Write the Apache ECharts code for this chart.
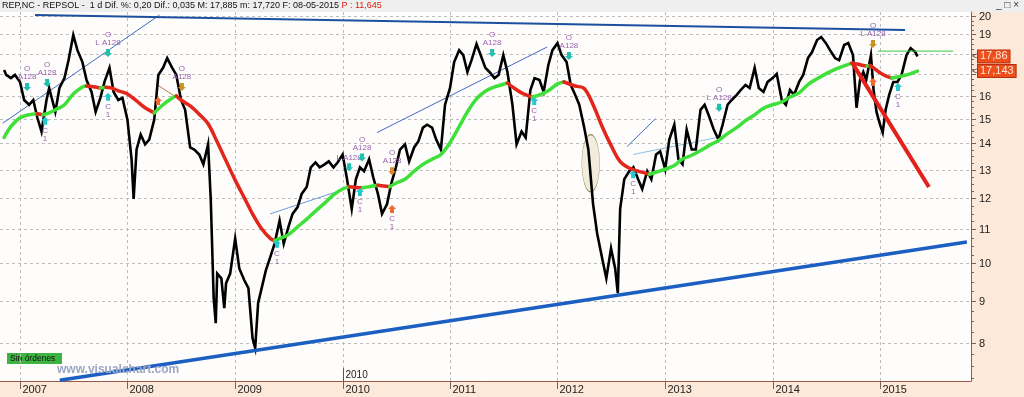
<!DOCTYPE html>
<html><head><meta charset="utf-8">
<script src="https://cdn.jsdelivr.net/npm/echarts@6/dist/echarts.min.js"></script>
<style>html,body{margin:0;padding:0;background:#fce9d9;}#c{width:1024px;height:397px;}</style>
</head><body><div id="c"></div>
<script>
// ---------- data ----------
const priceDates = ['2006-11-08','2006-11-15','2006-12-01','2006-12-15','2007-01-01','2007-01-15','2007-02-01','2007-02-15','2007-03-01','2007-03-15','2007-04-01','2007-04-10','2007-05-01','2007-05-15','2007-06-01','2007-06-15','2007-07-01','2007-07-15','2007-08-01','2007-08-15','2007-09-01','2007-09-15','2007-10-01','2007-10-15','2007-11-01','2007-11-15','2007-12-01','2007-12-15',
'2008-01-01','2008-01-15','2008-01-22','2008-02-01','2008-02-15','2008-03-01','2008-03-15','2008-04-01','2008-04-15','2008-05-01','2008-05-15','2008-06-01','2008-06-15','2008-07-01','2008-07-15','2008-08-01','2008-08-15','2008-09-01','2008-09-15','2008-10-01','2008-10-10','2008-10-20','2008-10-27','2008-11-01','2008-11-15','2008-11-25','2008-12-01','2008-12-15',
'2009-01-01','2009-01-15','2009-02-01','2009-02-15','2009-03-01','2009-03-10','2009-03-20','2009-04-01','2009-04-15','2009-05-01','2009-05-15','2009-06-01','2009-06-15','2009-07-01','2009-07-15','2009-08-01','2009-08-15','2009-09-01','2009-09-15','2009-10-01','2009-10-15','2009-11-01','2009-11-15','2009-12-01','2009-12-15',
'2010-01-01','2010-01-15','2010-02-01','2010-02-15','2010-03-01','2010-03-15','2010-04-01','2010-04-15','2010-05-01','2010-05-15','2010-06-01','2010-06-15','2010-07-01','2010-07-15','2010-08-01','2010-08-15','2010-09-01','2010-09-15','2010-10-01','2010-10-15','2010-11-01','2010-11-15','2010-12-01','2010-12-15',
'2011-01-01','2011-01-15','2011-02-01','2011-02-15','2011-03-01','2011-03-15','2011-04-01','2011-04-15','2011-05-01','2011-05-15','2011-06-01','2011-06-15','2011-07-01','2011-07-15','2011-08-01','2011-08-15','2011-09-01','2011-09-15','2011-10-01','2011-10-15','2011-11-01','2011-11-15','2011-12-01','2011-12-15',
'2012-01-01','2012-01-15','2012-02-01','2012-02-15','2012-03-01','2012-03-15','2012-04-01','2012-04-15','2012-05-01','2012-05-15','2012-06-01','2012-06-15','2012-07-01','2012-07-15','2012-07-24','2012-08-01','2012-08-15','2012-09-01','2012-09-15','2012-10-01','2012-10-15','2012-11-01','2012-11-15','2012-12-01','2012-12-15',
'2013-01-01','2013-01-15','2013-02-01','2013-02-15','2013-03-01','2013-03-15','2013-04-01','2013-04-15','2013-05-01','2013-05-15','2013-06-01','2013-06-15','2013-07-01','2013-07-15','2013-08-01','2013-08-15','2013-09-01','2013-09-15','2013-10-01','2013-10-15','2013-11-01','2013-11-15','2013-12-01','2013-12-15',
'2014-01-01','2014-01-15','2014-02-01','2014-02-15','2014-03-01','2014-03-15','2014-04-01','2014-04-15','2014-05-01','2014-05-15','2014-06-01','2014-06-15','2014-07-01','2014-07-15','2014-08-01','2014-08-15','2014-09-01','2014-09-15','2014-10-01','2014-10-13','2014-10-25','2014-11-05','2014-11-15','2014-12-01','2014-12-10','2014-12-20',
'2015-01-01','2015-01-10','2015-01-20','2015-02-01','2015-02-15','2015-03-01','2015-03-15','2015-04-01','2015-04-15','2015-05-01','2015-05-08'];
const priceValues = [17.20,16.96,16.81,16.96,16.63,15.81,15.60,15.81,15.04,14.47,15.81,16.35,15.29,16.35,16.81,17.68,18.97,18.18,17.58,16.72,16.17,15.29,15.90,16.63,17.30,16.17,15.81,15.90,
14.96,13.39,11.98,13.76,14.35,13.96,14.15,14.96,16.96,17.30,17.78,17.30,16.96,15.81,15.38,13.84,13.76,13.57,13.20,13.96,11.98,9.07,8.46,9.72,9.59,8.82,9.46,9.72,
10.72,9.86,9.54,9.33,8.11,7.89,8.95,9.33,9.80,10.20,10.57,11.27,10.57,11.08,11.49,11.71,12.15,12.39,13.09,13.27,13.09,13.20,13.31,13.09,13.27,
13.57,12.73,11.65,12.66,13.09,12.95,13.39,12.73,12.15,11.49,11.81,12.49,13.09,13.76,13.96,13.31,13.84,14.07,14.63,14.75,14.63,14.15,13.76,15.60,
16.35,17.58,18.18,17.93,17.10,17.68,18.49,17.93,17.30,17.10,16.81,16.96,17.93,17.10,15.60,13.96,14.47,14.23,16.26,16.81,16.72,16.17,17.44,18.18,
18.54,17.93,17.58,16.49,16.04,15.60,14.63,13.76,11.81,10.87,10.14,9.59,10.43,9.86,9.20,11.65,12.66,12.95,13.09,12.66,12.32,12.95,12.66,13.57,13.69,
13.02,14.15,14.75,13.39,13.20,14.55,13.76,13.76,15.38,15.60,15.04,14.55,14.15,14.75,15.60,15.81,16.04,16.26,16.49,16.35,17.30,16.35,16.17,16.63,
16.81,17.01,15.81,15.60,16.26,16.04,16.63,16.96,17.78,18.08,18.70,18.86,18.54,18.18,17.78,17.68,18.44,18.54,17.93,15.47,16.72,17.10,16.72,17.93,16.26,15.29,
14.75,14.43,15.38,16.04,16.63,16.63,16.96,17.93,18.28,18.08,17.86];

const maDates = ['2006-11-08','2006-12-01','2007-01-01','2007-02-01','2007-03-01','2007-03-20','2007-04-10','2007-05-01','2007-06-01','2007-07-01','2007-08-01','2007-08-15','2007-09-01','2007-10-01','2007-10-20','2007-11-05','2007-12-01',
'2008-01-01','2008-02-01','2008-03-01','2008-04-01','2008-05-01','2008-06-01','2008-06-15','2008-07-01','2008-08-01','2008-09-01','2008-10-01','2008-11-01','2008-12-01',
'2009-01-01','2009-02-01','2009-03-01','2009-04-01','2009-05-01','2009-05-15','2009-06-01','2009-07-01','2009-08-01','2009-09-01','2009-10-01','2009-11-01','2009-12-01',
'2010-01-01','2010-01-25','2010-02-15','2010-03-10','2010-04-01','2010-05-01','2010-05-20','2010-06-10','2010-07-01','2010-08-01','2010-09-01','2010-10-01','2010-11-01','2010-12-01',
'2011-01-01','2011-02-01','2011-03-01','2011-04-01','2011-05-01','2011-06-01','2011-07-01','2011-07-15','2011-08-01','2011-09-01','2011-10-08','2011-11-01','2011-12-01',
'2012-01-01','2012-01-23','2012-02-01','2012-03-01','2012-04-01','2012-05-01','2012-06-01','2012-07-01','2012-08-01','2012-09-01','2012-10-01','2012-11-09','2012-12-01',
'2013-01-01','2013-02-01','2013-03-01','2013-04-01','2013-05-01','2013-06-01','2013-07-01','2013-08-01','2013-09-01','2013-10-01','2013-11-01','2013-12-01',
'2014-01-01','2014-02-01','2014-03-01','2014-04-01','2014-05-01','2014-06-01','2014-07-01','2014-08-01','2014-09-01','2014-09-27','2014-10-15','2014-11-05','2014-11-18','2014-11-28','2014-12-10',
'2015-01-01','2015-01-20','2015-02-10','2015-03-01','2015-04-01','2015-05-08'];
const maValues = [14.23,14.67,15.04,15.17,15.21,15.17,15.25,15.38,15.60,16.08,16.40,16.44,16.42,16.35,16.38,16.36,16.22,
16.08,15.77,15.47,15.25,15.60,15.90,15.99,15.81,15.55,15.19,14.79,14.05,13.33,
12.63,12.02,11.49,11.02,10.72,10.66,10.72,10.84,11.08,11.32,11.58,11.84,12.12,
12.32,12.40,12.37,12.36,12.40,12.45,12.42,12.40,12.52,12.66,12.95,13.20,13.39,13.57,
14.03,14.67,15.29,15.86,16.20,16.40,16.52,16.58,16.40,16.13,15.94,16.04,16.22,
16.54,16.63,16.58,16.44,16.33,15.60,14.67,13.92,13.30,13.06,12.95,12.84,12.91,
13.02,13.16,13.40,13.54,13.72,13.93,14.11,14.39,14.63,14.92,15.17,15.45,
15.60,15.72,15.94,16.13,16.51,16.78,17.01,17.23,17.39,17.53,17.49,17.41,17.39,17.41,17.30,
17.06,16.91,16.81,16.86,16.96,17.143];

const yLabels = [8,9,10,11,12,13,14,15,16,17,18,19,20];
const yearLabels = ['2007','2008','2009','2010','2011','2012','2013','2014','2015'];

const upperTrendDates = ['2007-02-21','2015-03-27'], upperTrendValues = [20.06,19.23];
const supportDates = ['2007-05-16','2015-10-23'], supportValues = [7.21,10.62];
const downTrendDates = ['2014-09-27','2015-06-16'], downTrendValues = [17.58,12.39];
const resistDates = ['2014-12-25','2015-09-06'], resistValues = [18.13,18.13];
const thin1Dates = ['2006-11-03','2008-04-19'], thin1Values = [14.81,20.06];
const thin2Dates = ['2009-04-30','2010-01-09'], thin2Values = [11.49,12.32];
const thin3Dates = ['2010-04-28','2011-11-27'], thin3Values = [14.43,18.34];
const thin4Dates = ['2012-08-25','2012-11-29'], thin4Values = [13.88,15.00];
const thin5Dates = ['2012-09-14','2013-06-26'], thin5Values = [13.57,14.23];
const thin6Dates = ['2008-04-12','2008-06-19'], thin6Values = [16.49,15.90];

const ellipseDate = '2012-04-23', ellipseTop = 14.35, ellipseBottom = 12.22;

const annDates = ['2007-01-25','2007-04-03','2007-10-27','2007-03-27','2007-10-27','2008-04-14','2008-07-04','2009-05-23','2010-01-23','2010-03-08','2010-03-01','2010-06-18','2010-06-18','2011-05-24','2011-10-14','2012-02-09','2012-09-14','2013-07-03','2014-12-08','2014-12-08','2015-03-03'];
const annValues = [16.40,16.58,18.03,14.92,15.95,15.77,16.40,10.57,13.09,13.46,12.22,12.95,11.65,18.03,15.77,17.88,12.84,15.47,18.49,16.63,16.40];
const annKinds = ['dn','dn','dn','up','up','upO','dnB','up','dn','dn','up','dnO','upO','dn','up','dn','up','dn','dnB','upO','up'];
const annTexts = ['O\nA128','O\nA128','O\nL A128','C\n1','C\n1','','O\nA128','C\n1','L A128','O\nA128','C\n1','O\nA128','C\n1','O\nA128','C\n1','O\nA128','C\n1','O\nL A128','O\nL A128','','C\n1'];

const tagDates = ['2010-01-01'], tagValues = [7.31], tagTexts = ['2010'];
const lastDates = ['2015-05-08','2015-05-08'], lastValues = [17.86,17.143], lastTexts = ['17,86','17,143'];

const headerText = 'REP,NC - REPSOL -  1 d Dif. %: 0,20 Dif.: 0,035 M: 17,885 m: 17,720 F: 08-05-2015 ';
const headerRed = 'P : 11,645';

// ---------- helpers ----------
function ts(s){const [y,m,d]=s.split('-').map(Number);return new Date(y,m-1,d).getTime();}
const pair=(ds,vs)=>ds.map((d,i)=>[ts(d),vs[i]]);
const X_MIN = ts('2006-10-25'), X_MAX = ts('2015-11-06');
const Y_MIN = 7.193, Y_MAX = 20.23;
const FONT = 'Liberation Sans';

function trend(ds,vs,color,width,z){
  return {type:'line',data:pair(ds,vs),symbol:'none',silent:true,z:z||3,animation:false,
    lineStyle:{color:color,width:width}};
}

// MA runs (green rising / red falling)
const maPts = pair(maDates, maValues);
const runs=[]; let cur=[maPts[0]], dir=null;
for(let i=1;i<maPts.length;i++){
  const up = maPts[i][1] >= maPts[i-1][1];
  if(dir===null || up===dir){cur.push(maPts[i]); dir=up;}
  else {runs.push({up:dir,pts:cur}); cur=[maPts[i-1],maPts[i]]; dir=up;}
}
runs.push({up:dir,pts:cur});

const yMinor=[]; for(let v=7.25; v<=20.001; v+=0.25) yMinor.push(+v.toFixed(2));

const series = [];
series.push({type:'custom',silent:true,clip:false,z:1,animation:false,
  data: yMinor.map(v=>[X_MIN,v]),
  renderItem:(params,api)=>{
    const cs=params.coordSys; const v=api.value(1); const p=api.coord([X_MIN,v]);
    const right=cs.x+cs.width; const y=Math.round(p[1])+0.5;
    const major = yLabels.indexOf(v)>=0;
    const ch=[{type:'line',shape:{x1:right,y1:y,x2:right+(major?5:3),y2:y},style:{stroke:'#8a5a4a',lineWidth:1}}];
    if(major){
      ch.push({type:'line',shape:{x1:cs.x,y1:y,x2:right,y2:y},style:{stroke:'#bdbdbd',lineWidth:1,lineDash:[3,3]}});
      ch.push({type:'text',x:right+8,y:y,style:{text:String(v),fill:'#222',font:'11px '+FONT,verticalAlign:'middle',align:'left'}});
    }
    return {type:'group',children:ch};
  }});
series.push({type:'custom',silent:true,clip:false,z:1,animation:false,
  data: yearLabels.map(y=>[ts(y+'-01-01'),Y_MIN]),
  renderItem:(params,api)=>{
    const cs=params.coordSys; const p=api.coord([api.value(0),Y_MIN]);
    const x=Math.round(p[0])+0.5; const bottom=cs.y+cs.height;
    return {type:'group',children:[
      {type:'line',shape:{x1:x,y1:cs.y,x2:x,y2:bottom},style:{stroke:'#bdbdbd',lineWidth:1,lineDash:[3,3]}},
      {type:'line',shape:{x1:x,y1:bottom,x2:x,y2:bottom+8},style:{stroke:'#7a6060',lineWidth:1}},
      {type:'text',x:x+2,y:bottom+3,style:{text:yearLabels[params.dataIndex],fill:'#222',font:'11px '+FONT,align:'left',verticalAlign:'top'}}
    ]};
  }});
series.push({type:'custom',silent:true,clip:false,z:2,animation:false,
  data:[[ts(ellipseDate),ellipseTop,ellipseBottom]],
  renderItem:(params,api)=>{
    const pt=api.coord([api.value(0),api.value(1)]), pb=api.coord([api.value(0),api.value(2)]);
    const ry=(pb[1]-pt[1])/2, cy=(pb[1]+pt[1])/2;
    return {type:'circle',x:pt[0],y:cy,scaleX:0.31,shape:{cx:0,cy:0,r:ry},
      style:{fill:'#f2ecdc',stroke:'#8a8a50',lineWidth:1.2}};
  }});
series.push(trend(thin1Dates,thin1Values,'#3e6cc0',1,2));
series.push(trend(thin2Dates,thin2Values,'#6b9ad8',1,2));
series.push(trend(thin3Dates,thin3Values,'#3e6cc0',1,2));
series.push(trend(thin4Dates,thin4Values,'#3e6cc0',1,2));
series.push(trend(thin5Dates,thin5Values,'#8cc0e0',1,2));
series.push(trend(thin6Dates,thin6Values,'#c07850',1,2));
series.push({type:'line',data:pair(priceDates,priceValues),symbol:'none',silent:true,z:4,animation:false,
  lineStyle:{color:'#000',width:2.6,join:'miter'}});
runs.forEach(r=>series.push({type:'line',data:r.pts,symbol:'none',silent:true,z:5,animation:false,smooth:0.35,
  lineStyle:{color:r.up?'#3fe03a':'#e3261c',width:3.5,cap:'round'}}));
series.push(trend(upperTrendDates,upperTrendValues,'#1d4fa0',2,6));
series.push(trend(supportDates,supportValues,'#1c5fc2',3.5,6));
series.push(trend(downTrendDates,downTrendValues,'#e3201b',4,6));
series.push(trend(resistDates,resistValues,'#39c840',1,6));
const kindColor={dn:'#1fc0b0',up:'#25c8d0',upO:'#f06a30',dnO:'#e08a30',dnB:'#c8961e'};
series.push({type:'custom',silent:true,clip:false,z:7,animation:false,
  data:pair(annDates,annValues),
  renderItem:(params,api)=>{
    const i=params.dataIndex; const p=api.coord([api.value(0),api.value(1)]);
    const k=annKinds[i]; const down=k.indexOf('dn')===0; const col=kindColor[k];
    const s=down?1:-1;
    const pts=[[-2,-4*s],[2,-4*s],[2,0],[4,0],[0,4*s],[-4,0],[-2,0]];
    const ch=[{type:'polygon',x:p[0],y:p[1],shape:{points:pts},style:{fill:col}}];
    if(annTexts[i]){
      ch.push({type:'text',x:p[0],y:down?p[1]-6:p[1]+6,style:{text:annTexts[i],fill:'#9860b0',font:'8px '+FONT,
        align:'center',verticalAlign:down?'bottom':'top',lineHeight:8}});
    }
    return {type:'group',children:ch};
  }});
series.push({type:'custom',silent:true,clip:false,z:7,animation:false,
  data:pair(tagDates,tagValues),
  renderItem:(params,api)=>{
    const cs=params.coordSys; const p=api.coord([api.value(0),api.value(1)]);
    const x=Math.round(p[0])+0.5;
    return {type:'group',children:[
      {type:'line',shape:{x1:x,y1:p[1]-7,x2:x,y2:cs.y+cs.height},style:{stroke:'#555',lineWidth:1}},
      {type:'text',x:x+2,y:p[1],style:{text:tagTexts[params.dataIndex],fill:'#222',font:'10px '+FONT,verticalAlign:'middle'}}
    ]};
  }});
series.push({type:'custom',silent:true,clip:false,z:8,animation:false,
  data:pair(lastDates,lastValues),
  renderItem:(params,api)=>{
    const cs=params.coordSys; const p=api.coord([api.value(0),api.value(1)]);
    const right=cs.x+cs.width;
    return {type:'group',children:[
      {type:'text',x:right+1,y:p[1],style:{text:'<',fill:'#444',font:'9px '+FONT,verticalAlign:'middle'}},
      {type:'text',x:right+7,y:p[1],style:{text:lastTexts[params.dataIndex],fill:'#ffe6d6',font:'11px '+FONT,
        verticalAlign:'middle',backgroundColor:'#ee4e1c',borderColor:'#b5300e',borderWidth:1,padding:[1,2,0,2]}}
    ]};
  }});

const chart = echarts.init(document.getElementById('c'),null,{renderer:'canvas'});
chart.setOption({
  animation:false,
  backgroundColor:'#fce9d9',
  grid:{left:0,right:53,top:12,bottom:16,show:true,backgroundColor:'#fefdfb',borderWidth:0,containLabel:false},
  xAxis:{type:'time',min:X_MIN,max:X_MAX,
    axisLine:{show:true,lineStyle:{color:'#9a5a48',width:1}},
    axisTick:{show:false},axisLabel:{show:false},splitLine:{show:false},minorTick:{show:false}},
  yAxis:{type:'log',logBase:10,min:Y_MIN,max:Y_MAX,position:'right',
    axisLine:{show:true,onZero:false,lineStyle:{color:'#9a5a48',width:1}},
    axisTick:{show:false},axisLabel:{show:false},splitLine:{show:false},minorTick:{show:false},minorSplitLine:{show:false}},
  graphic:[
    {type:'rect',left:0,top:0,shape:{width:1024,height:12},style:{fill:'#efefef'},z:-1},
    {type:'text',left:2,top:1,style:{text:'{a|'+headerText+'}{b|'+headerRed+'}',
      rich:{a:{fill:'#111',font:'9px '+FONT},b:{fill:'#e02010',font:'9px '+FONT}}}},
    {type:'text',right:5,top:0,style:{text:'_ \u25a1 \u00d7',fill:'#333',font:'10px '+FONT}},
    {type:'group',left:7,top:353,z:10,children:[
      {type:'rect',shape:{width:55,height:11},style:{fill:'#3db341'}},
      {type:'text',x:3,y:1.5,style:{text:'Sin órdenes',fill:'#111',font:'8.5px '+FONT}}]},
    {type:'text',left:57,top:364,z:10,style:{text:'www.visualchart.com',fill:'#9ba7c6',font:'bold 12px '+FONT}}
  ],
  series: series
});
</script></body></html>
